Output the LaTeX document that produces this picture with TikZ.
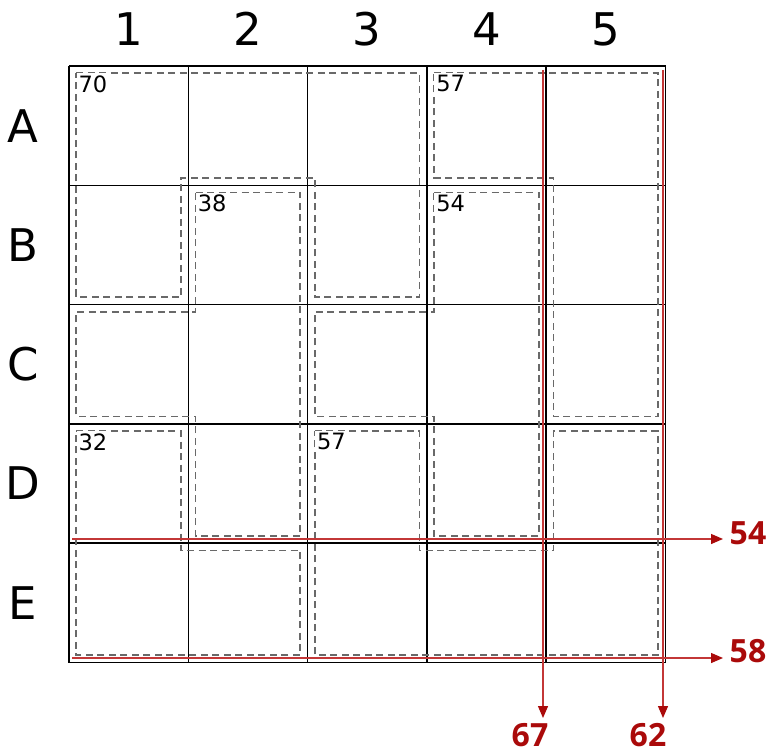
\documentclass[tikz,border=0pt]{standalone}
\usepackage{fontspec}
\setmainfont{DejaVu Sans}
\newfontfamily\redfont{Open Sans}
\usetikzlibrary{arrows.meta}
\definecolor{cagegray}{RGB}{105,105,105}
\definecolor{sumred}{RGB}{170,10,10}
\definecolor{linered}{RGB}{195,55,55}
\begin{document}
\begin{tikzpicture}[x={(1pt,0)},y={(0,-1pt)},
  gridline/.style={line width=1.5pt,black},
  cage/.style={draw=cagegray,line width=1.7pt,dash pattern=on 7pt off 4.5pt},
  cagelab/.style={anchor=north west,fill=white,inner sep=2pt,font=\fontsize{22.5}{24}\selectfont},
  headlab/.style={font=\fontsize{45}{48}\selectfont,inner sep=0pt},
  sumline/.style={draw=linered,line width=1.3pt,-{Triangle[length=12pt,width=10pt,color=sumred]}},
  sumlab/.style={font=\redfont\bfseries\fontsize{32}{34}\selectfont,text=sumred,inner sep=0pt}]
\useasboundingbox (0,0) rectangle (769,749);
\def\cs{119.3}
\def\ox{69}\def\oy{66}\def\d{7.3}
% grid
\foreach \i in {0,...,5}{
  \draw[gridline] ({\ox+\i*\cs},\oy) -- ({\ox+\i*\cs},{\oy+5*\cs});
  \draw[gridline] (\ox,{\oy+\i*\cs}) -- ({\ox+5*\cs},{\oy+\i*\cs});
}
% headers
\foreach \t [count=\i from 0] in {1,2,3,4,5}
  \node[headlab] (col\t) at ({\ox+(\i+0.5)*\cs},29) {\t};
\foreach \t [count=\i from 0] in {A,B,C,D,E}
  \node[headlab] (row\t) at (23,{\oy+(\i+0.5)*\cs}) {\t};
% helper coordinates
\pgfmathsetmacro\Xa{\ox}\pgfmathsetmacro\Xb{\ox+\cs}\pgfmathsetmacro\Xc{\ox+2*\cs}
\pgfmathsetmacro\Xd{\ox+3*\cs}\pgfmathsetmacro\Xe{\ox+4*\cs}\pgfmathsetmacro\Xf{\ox+5*\cs}
\pgfmathsetmacro\Ya{\oy}\pgfmathsetmacro\Yb{\oy+\cs}\pgfmathsetmacro\Yc{\oy+2*\cs}
\pgfmathsetmacro\Yd{\oy+3*\cs}\pgfmathsetmacro\Ye{\oy+4*\cs}\pgfmathsetmacro\Yf{\oy+5*\cs}
% cages
% 70: A1 A2 A3 B1 B3
\draw[cage] ({\Xa+\d},{\Ya+\d}) -- ({\Xd-\d},{\Ya+\d}) -- ({\Xd-\d},{\Yc-\d}) -- ({\Xc+\d},{\Yc-\d})
  -- ({\Xc+\d},{\Yb-\d}) -- ({\Xb-\d},{\Yb-\d}) -- ({\Xb-\d},{\Yc-\d}) -- ({\Xa+\d},{\Yc-\d}) -- cycle;
% 57: A4 A5 B5 C5
\draw[cage] ({\Xd+\d},{\Ya+\d}) -- ({\Xf-\d},{\Ya+\d}) -- ({\Xf-\d},{\Yd-\d}) -- ({\Xe+\d},{\Yd-\d})
  -- ({\Xe+\d},{\Yb-\d}) -- ({\Xd+\d},{\Yb-\d}) -- cycle;
% 38: B2 C1 C2 D2
\draw[cage] ({\Xb+\d},{\Yb+\d}) -- ({\Xc-\d},{\Yb+\d}) -- ({\Xc-\d},{\Ye-\d}) -- ({\Xb+\d},{\Ye-\d})
  -- ({\Xb+\d},{\Yd-\d}) -- ({\Xa+\d},{\Yd-\d}) -- ({\Xa+\d},{\Yc+\d}) -- ({\Xb+\d},{\Yc+\d}) -- cycle;
% 54: B4 C3 C4 D4
\draw[cage] ({\Xd+\d},{\Yb+\d}) -- ({\Xe-\d},{\Yb+\d}) -- ({\Xe-\d},{\Ye-\d}) -- ({\Xd+\d},{\Ye-\d})
  -- ({\Xd+\d},{\Yd-\d}) -- ({\Xc+\d},{\Yd-\d}) -- ({\Xc+\d},{\Yc+\d}) -- ({\Xd+\d},{\Yc+\d}) -- cycle;
% 32: D1 E1 E2
\draw[cage] ({\Xa+\d},{\Yd+\d}) -- ({\Xb-\d},{\Yd+\d}) -- ({\Xb-\d},{\Ye+\d}) -- ({\Xc-\d},{\Ye+\d})
  -- ({\Xc-\d},{\Yf-\d}) -- ({\Xa+\d},{\Yf-\d}) -- cycle;
% 57: D3 D5 E3 E4 E5
\draw[cage] ({\Xc+\d},{\Yd+\d}) -- ({\Xd-\d},{\Yd+\d}) -- ({\Xd-\d},{\Ye+\d}) -- ({\Xe+\d},{\Ye+\d})
  -- ({\Xe+\d},{\Yd+\d}) -- ({\Xf-\d},{\Yd+\d}) -- ({\Xf-\d},{\Yf-\d}) -- ({\Xc+\d},{\Yf-\d}) -- cycle;
% cage sums
\node[cagelab] (s70) at ({\Xa+\d},{\Ya+\d}) {70};
\node[cagelab] (s57a) at ({\Xd+\d},{\Ya+\d}) {57};
\node[cagelab] (s38) at ({\Xb+\d},{\Yb+\d}) {38};
\node[cagelab] (s54) at ({\Xd+\d},{\Yb+\d}) {54};
\node[cagelab] (s32) at ({\Xa+\d},{\Yd+\d}) {32};
\node[cagelab] (s57b) at ({\Xc+\d},{\Yd+\d}) {57};
% red sum lines
\coordinate (v1s) at (543,70);  \coordinate (v1e) at (543,718);
\coordinate (v2s) at (663,70);  \coordinate (v2e) at (663,718);
\coordinate (h1s) at (72,539);  \coordinate (h1e) at (723,539);
\coordinate (h2s) at (72,658);  \coordinate (h2e) at (723,658);
\draw[sumline] (v1s) -- (v1e);
\draw[sumline] (v2s) -- (v2e);
\draw[sumline] (h1s) -- (h1e);
\draw[sumline] (h2s) -- (h2e);
\node[sumlab,anchor=north] (t67) at (530,723) {67};
\node[sumlab,anchor=north] (t62) at (648,723) {62};
\node[sumlab] (t54) at (748,533.5) {54};
\node[sumlab] (t58) at (748,651.5) {58};
\end{tikzpicture}
\end{document}
